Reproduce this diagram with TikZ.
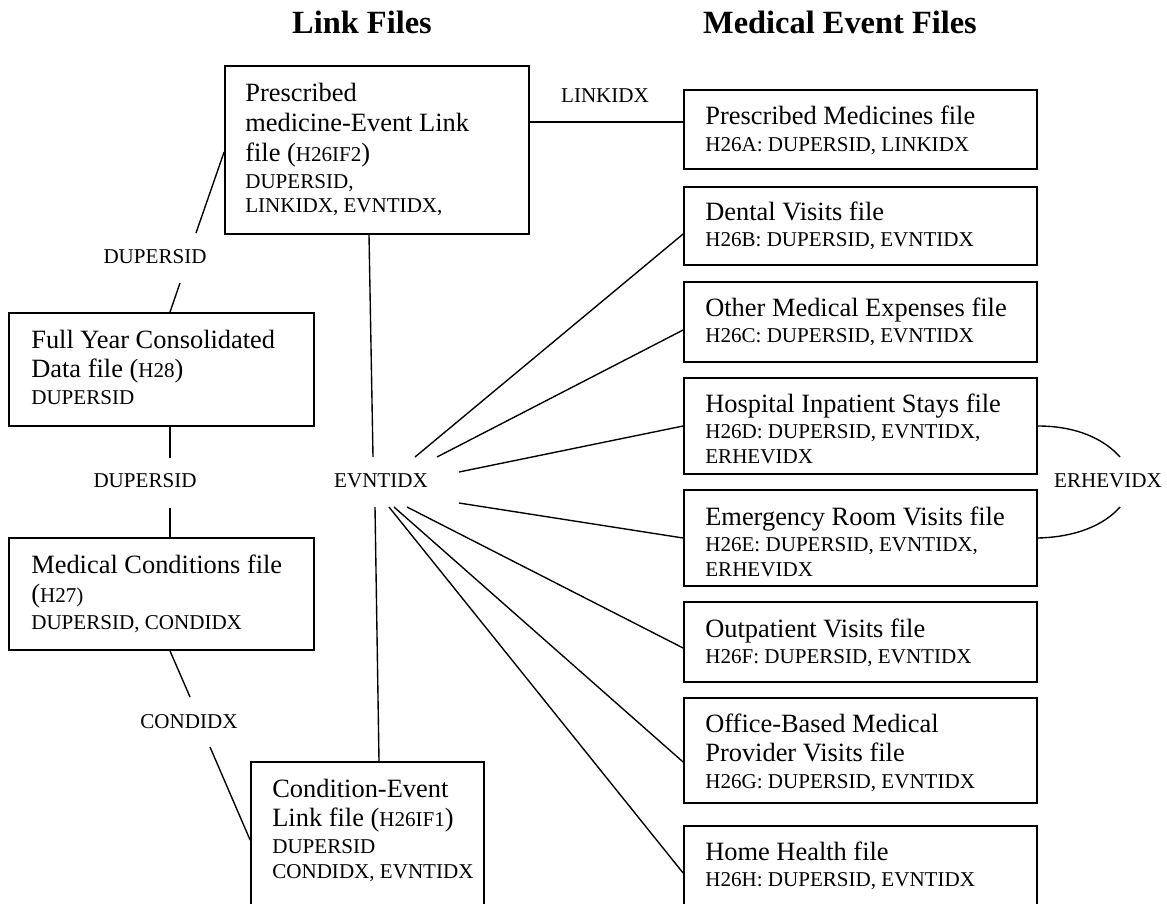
\documentclass[tikz,border=0pt]{standalone}
\usepackage{fontspec}
\setmainfont{Liberation Serif}
\usetikzlibrary{fit}

% type sizes used in the boxes
\newcommand{\bigtx}{\fontsize{16.3pt}{18.5pt}\selectfont}
\newcommand{\smtx}{\fontsize{13pt}{15pt}\selectfont}
% one line of a box text, with the distance from the previous baseline
\newcommand{\rowB}[2][18.5pt]{\baselineskip=#1\relax\hbox{\bigtx #2}}
\newcommand{\rowS}[2][15.1pt]{\baselineskip=#1\relax\hbox{\smtx #2}}
\newcommand{\textlines}[1]{\vtop{\lineskiplimit=-100pt\lineskip=0pt #1}}

\tikzset{
  box/.style={draw, line width=1.1pt, inner sep=0pt},
  txt/.style={anchor=base west, inner sep=0pt},
  lbl/.style={anchor=base, inner sep=0pt, font=\smtx},
  ttl/.style={anchor=base, inner sep=0pt, font=\fontsize{20pt}{24pt}\selectfont\bfseries},
  conn/.style={line width=0.85pt},
}

\begin{document}
\begin{tikzpicture}[x=0.6172pt, y=-0.6172pt]
\path[use as bounding box, clip] (0,0) rectangle (1167,903);

% column headings
\node[ttl] (hLink) at (362,34) {Link Files};
\node[ttl] (hEvent) at (840,34) {Medical Event Files};

% ---- link files and person level files (left) ----
\node[box, fit={(225,66) (529,234)}] (lb) {};
\node[txt] (lbT) at (245,102) {\textlines{%
  \rowB{Prescribed}
  \rowB{medicine-Event Link}
  \rowB{file (\smtx H26IF2\bigtx)}
  \rowS[16.4pt]{DUPERSID,}
  \rowS{LINKIDX, EVNTIDX,}}};

\node[box, fit={(9,313) (314,426)}] (fy) {};
\node[txt] (fyT) at (31,348) {\textlines{%
  \rowB{Full Year Consolidated}
  \rowB{Data file (\smtx H28\bigtx)}
  \rowS[16.4pt]{DUPERSID}}};

\node[box, fit={(9,538) (314,650)}] (mc) {};
\node[txt] (mcT) at (31,573) {\textlines{%
  \rowB{Medical Conditions file}
  \rowB{(\smtx H27)}
  \rowS[16.4pt]{DUPERSID, CONDIDX}}};

\node[box, fit={(251,762) (484,940)}] (ce) {};
\node[txt] (ceT) at (272,797) {\textlines{%
  \rowB{Condition-Event}
  \rowB{Link file (\smtx H26IF1\bigtx)}
  \rowS[16.4pt]{DUPERSID}
  \rowS{CONDIDX, EVNTIDX}}};

% ---- medical event files (right) ----
\node[box, fit={(684,90) (1037,169)}] (pm) {};
\node[txt] (pmT) at (705,125) {\textlines{%
  \rowB{Prescribed Medicines file}
  \rowS[16.4pt]{H26A: DUPERSID, LINKIDX}}};

\node[box, fit={(684,187) (1037,265)}] (dv) {};
\node[txt] (dvT) at (705,220) {\textlines{%
  \rowB{Dental Visits file}
  \rowS[16.4pt]{H26B: DUPERSID, EVNTIDX}}};

\node[box, fit={(684,282) (1037,362)}] (om) {};
\node[txt] (omT) at (705,316) {\textlines{%
  \rowB{Other Medical Expenses file}
  \rowS[16.4pt]{H26C: DUPERSID, EVNTIDX}}};

\node[box, fit={(684,378) (1037,474)}] (hi) {};
\node[txt] (hiT) at (705,412) {\textlines{%
  \rowB{Hospital Inpatient Stays file}
  \rowS[16.4pt]{H26D: DUPERSID, EVNTIDX,}
  \rowS{ERHEVIDX}}};

\node[box, fit={(684,490) (1037,586)}] (em) {};
\node[txt] (emT) at (705,525) {\textlines{%
  \rowB{Emergency Room Visits file}
  \rowS[16.4pt]{H26E: DUPERSID, EVNTIDX,}
  \rowS{ERHEVIDX}}};

\node[box, fit={(684,602) (1037,682)}] (op) {};
\node[txt] (opT) at (705,637) {\textlines{%
  \rowB{Outpatient Visits file}
  \rowS[16.4pt]{H26F: DUPERSID, EVNTIDX}}};

\node[box, fit={(684,698) (1037,803)}] (ob) {};
\node[txt] (obT) at (705,732) {\textlines{%
  \rowB{Office-Based Medical}
  \rowB{Provider Visits file}
  \rowS[16.4pt]{H26G: DUPERSID, EVNTIDX}}};

\node[box, fit={(684,826) (1037,940)}] (hh) {};
\node[txt] (hhT) at (705,860) {\textlines{%
  \rowB{Home Health file}
  \rowS[16.4pt]{H26H: DUPERSID, EVNTIDX}}};

% ---- key variable labels ----
\node[lbl] (kLink) at (605,103) {LINKIDX};
\node[lbl] (kDup1) at (155,263) {DUPERSID};
\node[lbl] (kDup2) at (145,487) {DUPERSID};
\node[lbl] (kEvnt) at (381,487) {EVNTIDX};
\node[lbl] (kCond) at (189,728) {CONDIDX};
\node[lbl] (kErhe) at (1108,487) {ERHEVIDX};

% free ends of the connectors beside the labels
\coordinate (dupA) at (196,233);
\coordinate (dupB) at (180,283);
\coordinate (dupC) at (170,458);
\coordinate (dupD) at (170,508);
\coordinate (conA) at (190,697);
\coordinate (conB) at (210,747);
\coordinate (evA)  at (373,457);
\coordinate (evB)  at (375,507);
\coordinate (fD)   at (415,457);
\coordinate (fO)   at (437,457);
\coordinate (fH)   at (459,472);
\coordinate (fE)   at (459,503);
\coordinate (fP)   at (407,507);
\coordinate (fG)   at (394,507);
\coordinate (fHH)  at (389,507);
\coordinate (erA)  at (1120,457);
\coordinate (erB)  at (1120,507);

% ---- connectors ----
\draw[conn] (lb.west |- 0,152) -- (dupA);
\draw[conn] (dupB) -- (fy.north -| 170,0);
\draw[conn] (fy.south -| 170,0) -- (dupC);
\draw[conn] (dupD) -- (mc.north -| 170,0);
\draw[conn] (mc.south -| 170,0) -- (conA);
\draw[conn] (conB) -- (ce.west |- 0,840);

\draw[conn] (lb.east |- 0,122) -- (pm.west |- 0,122);
\draw[conn] (lb.south -| 369,0) -- (evA);
\draw[conn] (evB) -- (ce.north -| 379,0);

\draw[conn] (fD)  -- (dv.west |- 0,234);
\draw[conn] (fO)  -- (om.west |- 0,330);
\draw[conn] (fH)  -- (hi.west);
\draw[conn] (fE)  -- (em.west);
\draw[conn] (fP)  -- (op.west |- 0,648);
\draw[conn] (fG)  -- (ob.west |- 0,762);
\draw[conn] (fHH) -- (hh.west |- 0,873);

\draw[conn] (hi.east) .. controls (1078,426) and (1105,440) .. (erA);
\draw[conn] (erB) .. controls (1105,524) and (1078,537) .. (em.east);
\end{tikzpicture}
\end{document}
